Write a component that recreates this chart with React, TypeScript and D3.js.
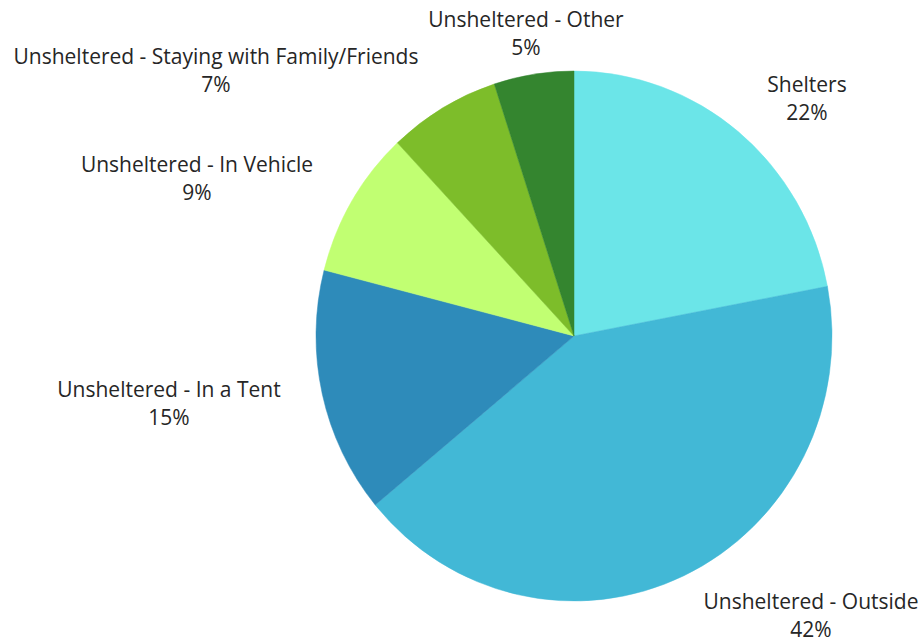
import React from "react";
import * as d3 from "d3";

const categories = [
  "Shelters",
  "Unsheltered - Outside",
  "Unsheltered - In a Tent",
  "Unsheltered - In Vehicle",
  "Unsheltered - Staying with Family/Friends",
  "Unsheltered - Other",
];
const values = [22, 42, 15, 9, 7, 5];
const colors = ["#6BE5E8", "#42B8D6", "#2E8BBA", "#C1FF72", "#7DBD2A", "#34852F"];
// label anchor positions (text layout only), [x, y of first line baseline]
const labelAnchors: [number, number][] = [
  [807, 92],
  [811, 609],
  [169, 397],
  [197, 172],
  [216, 64],
  [526, 26.5],
];

const W = 923;
const H = 643;
const cx = 574;
const cy = 336;
const ry = 265;
const rx = 258;

export default function App() {
  const pie = d3.pie<number>().sort(null).value((d) => d);
  const arcs = pie(values);
  const arcGen = d3.arc<d3.PieArcDatum<number>>().innerRadius(0).outerRadius(ry);
  return (
    <svg width={W} height={H} style={{ position: "absolute", left: 0, top: 0 }}>
      <rect width={W} height={H} fill="#fff" />
      <g transform={`translate(${cx},${cy}) scale(${rx / ry},1)`}>
        {arcs.map((a, i) => (
          <path key={i} d={arcGen(a) || ""} fill={colors[i]} stroke={colors[i]} strokeWidth={0.5} />
        ))}
      </g>
      {arcs.map((a, i) => (
        <text
          key={i}
          x={labelAnchors[i][0]}
          y={labelAnchors[i][1]}
          textAnchor="middle"
          fontFamily="'Open Sans', sans-serif"
          fontSize={21}
          fill="#262626"
        >
          <tspan x={labelAnchors[i][0]}>{categories[i]}</tspan>
          <tspan x={labelAnchors[i][0]} dy={28}>{`${a.data}%`}</tspan>
        </text>
      ))}
    </svg>
  );
}
